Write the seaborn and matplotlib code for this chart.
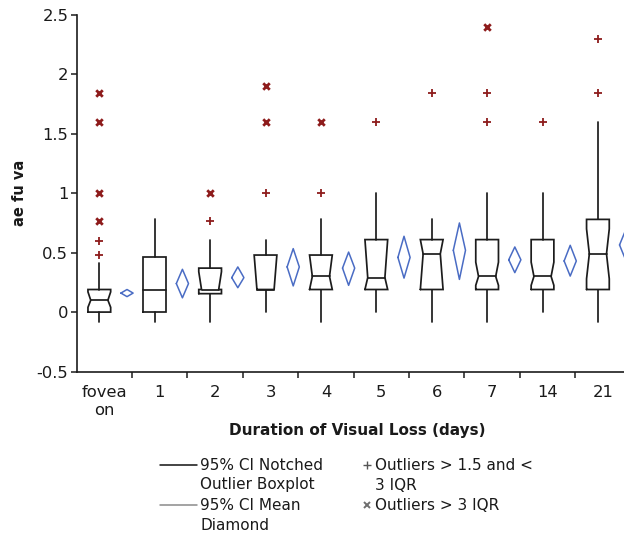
import matplotlib
matplotlib.use("Agg")
import matplotlib.pyplot as plt
from matplotlib.lines import Line2D
import numpy as np
import pandas as pd
import seaborn as sns

nan = np.nan

# ---------------- data ----------------
categories = ["fovea\non", "1", "2", "3", "4", "5", "6", "7", "14", "21"]
q1 = [0.00, 0.00, 0.155, 0.19, 0.19, 0.19, 0.19, 0.19, 0.19, 0.19]
median = [0.10, 0.19, 0.19, 0.19, 0.30, 0.29, 0.49, 0.30, 0.30, 0.49]
q3 = [0.19, 0.46, 0.37, 0.48, 0.48, 0.61, 0.61, 0.61, 0.61, 0.78]
notch_lo = [0.04, nan, nan, nan, 0.19, 0.19, 0.19, 0.225, 0.225, 0.28]
notch_hi = [0.17, nan, 0.34, 0.48, 0.48, 0.61, 0.61, 0.42, 0.42, 0.70]
whisker_lo = [-0.08, -0.08, -0.08, 0.00, -0.08, 0.00, -0.08, -0.08, 0.00, -0.08]
whisker_hi = [0.41, 0.78, 0.61, 0.61, 0.78, 1.00, 0.78, 1.00, 1.00, 1.60]

mean = [0.16, 0.24, 0.29, 0.38, 0.37, 0.46, 0.52, 0.44, 0.43, 0.565]
mean_lo = [0.13, 0.12, 0.205, 0.22, 0.225, 0.286, 0.275, 0.332, 0.303, 0.44]
mean_hi = [0.19, 0.36, 0.38, 0.534, 0.505, 0.638, 0.75, 0.548, 0.562, 0.69]

# outliers between 1.5 and 3 IQR  (+)
plus_group = [0, 0, 2, 3, 4, 5, 6, 7, 7, 8, 9, 9]
plus_value = [0.60, 0.48, 0.77, 1.00, 1.00, 1.60, 1.84, 1.60, 1.84, 1.60, 1.84, 2.30]
# outliers beyond 3 IQR  (x)
far_group = [0, 0, 0, 0, 2, 3, 3, 4, 7]
far_value = [1.84, 1.60, 1.00, 0.77, 1.00, 1.60, 1.90, 1.60, 2.40]

y_ticks = [-0.5, 0, 0.5, 1, 1.5, 2, 2.5]
y_tick_labels = ["-0.5", "0", "0.5", "1", "1.5", "2", "2.5"]

# ---------------- style ----------------
sns.set_style("ticks")
plt.rcParams["font.family"] = ["DejaVu Sans"]
TXT = "#1a1a1a"
BOX = "#1c1c1c"
DIA = "#4a6cc4"
OUT = "#8e1c1c"

W, H = 624, 535
fig = plt.figure(figsize=(W / 100, H / 100), dpi=100)
ax = fig.add_axes([76.6 / W, (H - 371.5) / H, 554.0 / W, 356.5 / H])

box_off, box_hw, notch_hw = -0.09, 0.205, 0.155
dia_off, dia_hw = 0.41, 0.11


def nn(v):
    return not np.isnan(v)


for i in range(len(categories)):
    xc = i + box_off
    lo, md, hi = q1[i], median[i], q3[i]
    clo, chi = notch_lo[i], notch_hi[i]
    if md <= lo + 1e-9 and nn(chi):
        # median sits on the lower quartile: the notch closes at the box bottom
        pts = [(xc - notch_hw, lo), (xc + notch_hw, lo), (xc + box_hw, chi),
               (xc + box_hw, hi), (xc - box_hw, hi), (xc - box_hw, chi),
               (xc - notch_hw, lo)]
    else:
        pts = [(xc - box_hw, lo), (xc + box_hw, lo)]
        pts += [(xc + box_hw, clo), (xc + notch_hw, md)] if nn(clo) else [(xc + box_hw, md)]
        pts += [(xc + notch_hw, md), (xc + box_hw, chi)] if nn(chi) else [(xc + box_hw, md)]
        pts += [(xc + box_hw, hi), (xc - box_hw, hi)]
        pts += [(xc - box_hw, chi), (xc - notch_hw, md)] if nn(chi) else [(xc - box_hw, md)]
        pts += [(xc - notch_hw, md), (xc - box_hw, clo)] if nn(clo) else [(xc - box_hw, md)]
        pts += [(xc - box_hw, lo)]
    xs, ys = zip(*pts)
    ax.plot(xs, ys, color=BOX, lw=1.25, solid_joinstyle="miter", zorder=3)
    m = notch_hw if (nn(clo) or nn(chi)) else box_hw
    ax.plot([xc - m, xc + m], [md, md], color=BOX, lw=1.25, zorder=3)
    ax.plot([xc, xc], [hi, whisker_hi[i]], color=BOX, lw=1.25, zorder=3)
    ax.plot([xc, xc], [lo, whisker_lo[i]], color=BOX, lw=1.25, zorder=3)

    # mean diamond
    xd = i + dia_off
    ax.plot([xd - dia_hw, xd, xd + dia_hw, xd, xd - dia_hw],
            [mean[i], mean_hi[i], mean[i], mean_lo[i], mean[i]],
            color=DIA, lw=1.1, zorder=3)

df_plus = pd.DataFrame({"x": np.array(plus_group) + box_off, "v": plus_value})
df_far = pd.DataFrame({"x": np.array(far_group) + box_off, "v": far_value})
sns.scatterplot(data=df_plus, x="x", y="v", marker="+", s=40, color=OUT,
                linewidth=1.3, ax=ax, zorder=4)
sns.scatterplot(data=df_far, x="x", y="v", marker="x", s=22, color=OUT,
                linewidth=2.0, ax=ax, zorder=4)

ax.set_xlim(-0.5, 9.5)
ax.set_ylim(-0.5, 2.5)
ax.set_xlabel("")
ax.set_ylabel("")
ax.set_yticks(y_ticks)
ax.set_yticklabels(y_tick_labels, fontsize=11.8, color=TXT)
ax.set_xticks(np.arange(0.5, 9.0, 1.0))
ax.set_xticklabels([])
ax.set_xticks(np.arange(len(categories)), minor=True)
ax.set_xticklabels(categories, minor=True, fontsize=11.8, color=TXT, linespacing=1.25)
ax.tick_params(axis="x", which="major", length=4.5, width=1.1, color=BOX)
ax.tick_params(axis="x", which="minor", length=0, pad=10)
ax.tick_params(axis="y", length=4.5, width=1.1, color=BOX, pad=1.5)
for s in ["top", "right"]:
    ax.spines[s].set_visible(False)
for s in ["left", "bottom"]:
    ax.spines[s].set_linewidth(1.2)
    ax.spines[s].set_color(BOX)

# axis titles
fig.text(357 / W, (H - 431) / H, "Duration of Visual Loss (days)", ha="center",
         va="center", fontsize=11, fontweight="bold", color=TXT)
fig.text(19.5 / W, (H - 193) / H, "ae fu va", ha="center", va="center",
         rotation=90, fontsize=10.5, fontweight="bold", color=TXT)


# legend (manual)
def fy(y):
    return (H - y) / H


def fx(x):
    return x / W


fig.add_artist(Line2D([fx(160), fx(197)], [fy(465), fy(465)], color="#111111", lw=1.1))
fig.add_artist(Line2D([fx(160), fx(197)], [fy(505), fy(505)], color="#8a8a8a", lw=1.1))
fig.add_artist(Line2D([fx(367)], [fy(465)], marker="+", ms=6, mew=1.0, color="#555555", lw=0))
fig.add_artist(Line2D([fx(367)], [fy(505)], marker="x", ms=4.5, mew=1.4, color="#6f6f6f", lw=0))
leg_fs = 11
for (x, y, t) in [(200, 465, "95% CI Notched"), (200, 485, "Outlier Boxplot"),
                  (200, 505, "95% CI Mean"), (200, 525, "Diamond"),
                  (375, 465, "Outliers > 1.5 and <"), (375, 485, "3 IQR"),
                  (375, 505, "Outliers > 3 IQR")]:
    fig.text(fx(x), fy(y), t, ha="left", va="center", fontsize=leg_fs, color=TXT)

fig.savefig("out.png", dpi=100)
